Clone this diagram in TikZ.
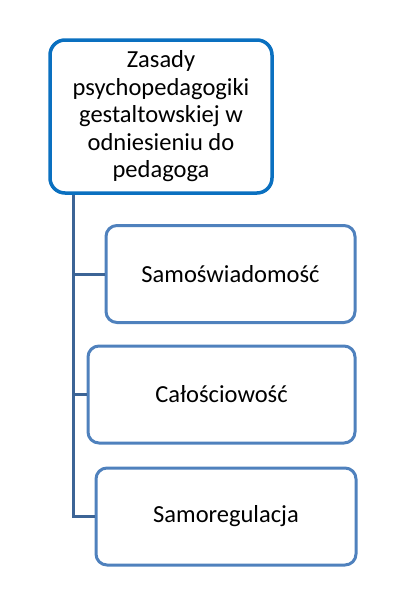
\documentclass[tikz,border=0pt]{standalone}
\usepackage{fontspec}
\setmainfont{Carlito}
\definecolor{topblue}{HTML}{0A70C0}
\definecolor{childblue}{HTML}{4F81BD}
\definecolor{linkblue}{HTML}{3C6496}
\begin{document}
\begin{tikzpicture}[x=1pt,y=-1pt,
  topbox/.style={draw=topblue,line width=3.5pt,rounded corners=15pt,fill=white,
    minimum width=222pt,minimum height=153pt,align=center,inner sep=0pt,
    font=\fontsize{24.5}{27.5}\selectfont},
  childbox/.style={draw=childblue,line width=3pt,rounded corners=11pt,fill=white,
    minimum height=97pt,align=center,inner sep=0pt,font=\fontsize{24.5}{28}\selectfont},
  link/.style={draw=linkblue,line width=3pt}]
\useasboundingbox (0,0) rectangle (407,608);
\node[topbox] (top) at (161,116.5) {Zasady\\psychopedagogiki\\gestaltowskiej w\\odniesieniu do\\pedagoga};
\node[childbox,minimum width=249pt] (b1) at (230.5,274) {Samoświadomość};
\node[childbox,minimum width=267pt] (b2) at (221.5,394.5) {Całościowość};
\node[childbox,minimum width=260pt] (b3) at (226,516.5) {Samoregulacja};
\coordinate (trunk) at (73,193);
\draw[link] (trunk |- top.south) |- (b3.west);
\draw[link] (trunk |- b1.west) -- (b1.west);
\draw[link] (trunk |- b2.west) -- (b2.west);
\end{tikzpicture}
\end{document}
